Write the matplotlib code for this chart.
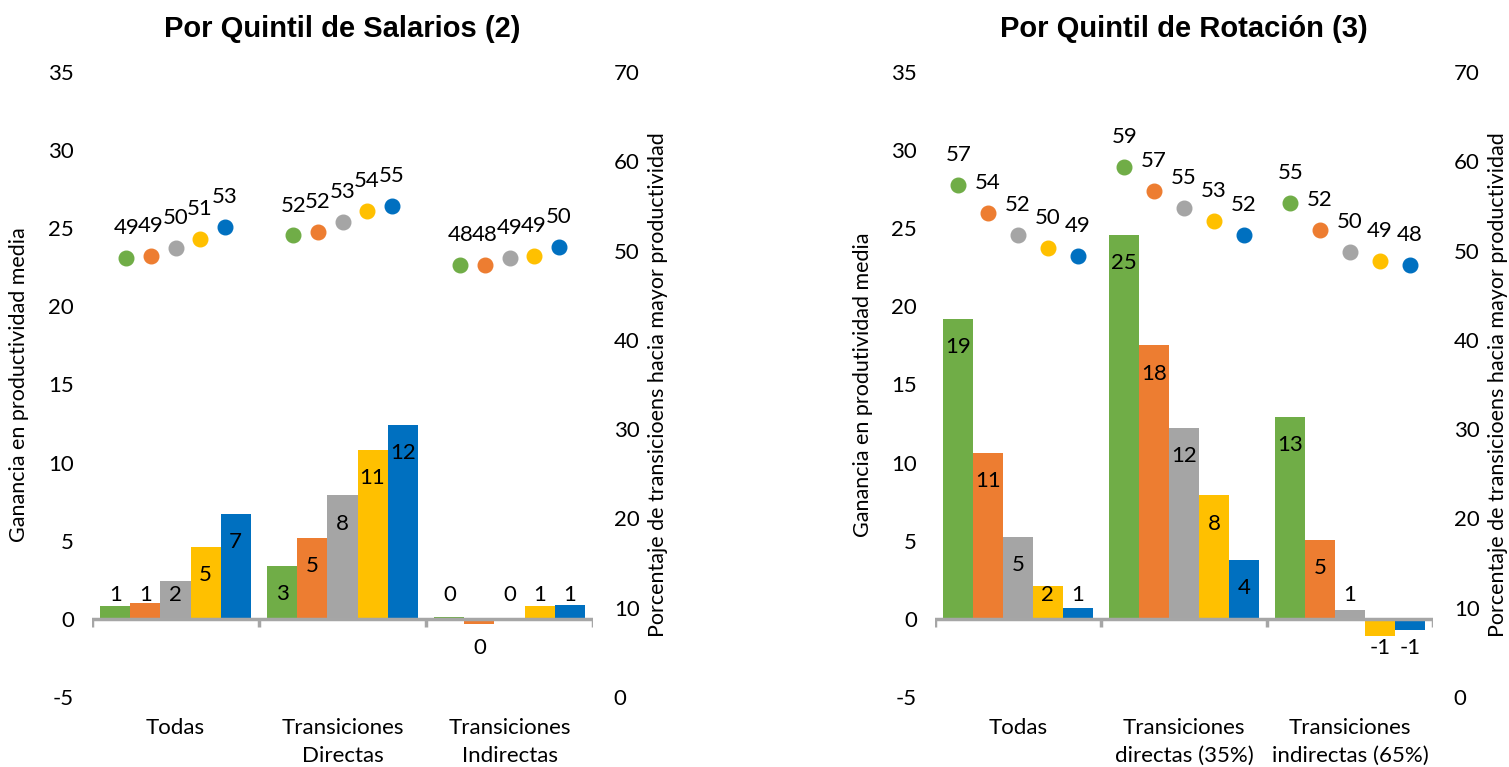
import numpy as np
import matplotlib
matplotlib.use("Agg")
from matplotlib import pylab as plt
from matplotlib import transforms

plt.rcParams["font.family"] = ["Lato", "DejaVu Sans"]
plt.rcParams["axes.unicode_minus"] = False

# categories and quintile colours
cats_sal = ["Todas", "Transiciones\nDirectas", "Transiciones\nIndirectas"]
cats_rot = ["Todas", "Transiciones\ndirectas (35%)", "Transiciones\nindirectas (65%)"]
colors = ["#70AD47", "#ED7D31", "#A5A5A5", "#FFC000", "#0070C0"]

# Por Quintil de Salarios: productivity gain (bars), rows = quintile, cols = category
gain_sal = [
    [0.8, 3.4, 0.15],
    [1.0, 5.2, -0.35],
    [2.4, 7.9, 0.0],
    [4.6, 10.8, 0.8],
    [6.7, 12.4, 0.9],
]
# share of transitions towards higher productivity (dots)
pct_sal = [
    [49.2, 51.7, 48.4],
    [49.4, 52.1, 48.4],
    [50.3, 53.2, 49.2],
    [51.3, 54.4, 49.4],
    [52.6, 55.0, 50.4],
]

# Por Quintil de Rotacion
gain_rot = [
    [19.2, 24.6, 12.9],
    [10.6, 17.5, 5.05],
    [5.25, 12.2, 0.55],
    [2.1, 7.9, -1.1],
    [0.7, 3.8, -0.7],
]
pct_rot = [
    [57.4, 59.4, 55.3],
    [54.2, 56.7, 52.3],
    [51.8, 54.8, 49.8],
    [50.3, 53.3, 48.8],
    [49.4, 51.8, 48.4],
]


def panel(ax, title, cats, gain, pct, dot_step, ylab_left, ylab_right):
    x = np.arange(len(cats))
    w = 0.18
    n = len(gain)
    ax2 = ax.twinx()

    for k in range(n):
        off = (k - (n - 1) / 2) * w
        vals = np.array(gain[k])
        ax.bar(x + off, vals, width=w, color=colors[k], zorder=2)
        for xi, v in zip(x + off, vals):
            if v >= 0:
                ly = max(v - 1.8, 1.5)
            else:
                ly = min(v + 1.8, -1.85)
            ax.text(xi, ly, f"{v:.0f}" if abs(v) >= 0.5 else "0",
                    ha="center", va="center", fontsize=16, zorder=4)

        doff = (k - (n - 1) / 2) * dot_step
        ax2.plot(x + doff, pct[k], "o", color=colors[k], markersize=10.5,
                 linestyle="none", zorder=3)
        for xi, p in zip(x + doff, pct[k]):
            ax2.annotate(f"{p:.0f}", (xi, p), xytext=(0, 21.5),
                         textcoords="offset points", ha="center",
                         va="center", fontsize=16)

    ax.set_xlim(-0.5, len(cats) - 0.5)
    ax.set_ylim(-5, 35)
    ax.set_yticks(np.arange(-5, 36, 5))
    ax2.set_ylim(0, 70)
    ax2.set_yticks(np.arange(0, 71, 10))

    for a in (ax, ax2):
        for s in a.spines.values():
            s.set_visible(False)
        a.tick_params(axis="y", length=0, labelsize=16)
    ax.tick_params(axis="y", pad=13)
    ax2.tick_params(axis="y", pad=15)

    # category axis drawn at zero
    ax.axhline(0, color="#A6A6A6", linewidth=2.5, zorder=3)
    edges = np.arange(len(cats) + 1) - 0.5
    ax.vlines(edges, -0.5, 0, color="#A6A6A6", linewidth=2.5, zorder=3)
    ax.set_xticks([])
    trans = transforms.blended_transform_factory(ax.transData, ax.transAxes)
    for xi, c in zip(x, cats):
        ax.text(xi, -0.033, c, transform=trans, ha="center", va="top",
                fontsize=16, linespacing=1.5)

    ax.set_ylabel(ylab_left, fontsize=15.5)
    ax.yaxis.set_label_coords(-0.125, 0.5)
    ax2.set_ylabel(ylab_right, fontsize=15.5)
    ax2.yaxis.set_label_coords(1.11, 0.5)
    ax.set_title(title, fontsize=21, fontweight="bold",
                 family="Liberation Sans", pad=25)


fig = plt.figure(figsize=(15.09, 7.67), dpi=100)
ax1 = fig.add_axes([92 / 1509, 70 / 767, 501 / 1509, 625 / 767])
ax3 = fig.add_axes([935 / 1509, 70 / 767, 498 / 1509, 625 / 767])

panel(ax1, "Por Quintil de Salarios (2)", cats_sal, gain_sal, pct_sal, 0.147,
      "Ganancia en productividad media",
      "Porcentaje de transicioens hacia mayor productividad")
panel(ax3, "Por Quintil de Rotación (3)", cats_rot, gain_rot, pct_rot, 0.18,
      "Ganancia en produtividad media",
      "Porcentaje de transicioens hacia mayor productividad")

fig.savefig("out.png", dpi=100)
